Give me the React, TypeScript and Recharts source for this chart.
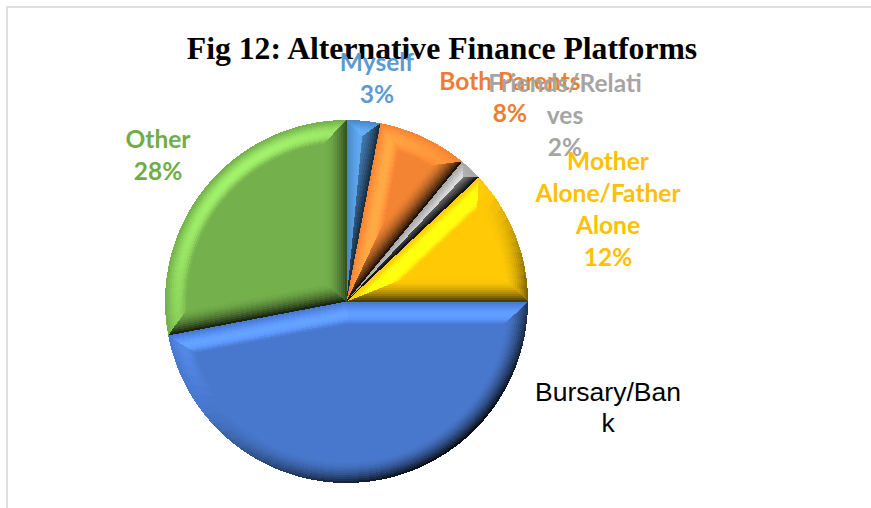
import { PieChart, Pie, Cell } from 'recharts';

const categories = ['Myself', 'Both Parents', 'Friends/Relatives', 'Mother Alone/Father Alone', 'Bursary/Bank', 'Other'];
const shares = [3, 8, 2, 12, 47, 28];
const sliceColors = ['#4a88c4', '#f28433', '#a8a8a8', '#ffc906', '#4878cd', '#74b04b'];
const labelColors = ['#5b9bd5', '#ed7d31', '#a5a5a5', '#ffc000', '#000000', '#70ad47'];
const labelLines = [
  ['Myself', '3%'],
  ['Both Parents', '8%'],
  ['Friends/Relati', 'ves', '2%'],
  ['Mother', 'Alone/Father', 'Alone', '12%'],
  ['Bursary/Ban', 'k'],
  ['Other', '28%'],
];
// label centre x and first baseline
const labelX = [377, 510, 565, 608, 608, 158];
const labelY = [71, 90, 92, 170, 401, 148];

const data = categories.map((name, i) => ({ name, value: shares[i] }));

const BEVEL = 22;
const STRIPS = 11;
const ARC_STEP = 4;
const rad = Math.PI / 180;
const light = { x: -0.6, y: -0.8 };

function shade(hex: string, amount: number) {
  const n = parseInt(hex.slice(1), 16);
  const mix = (c: number) => {
    const v = amount >= 0 ? c * (1 + amount) + 255 * amount * 0.08 : c * (1 + amount);
    return Math.round(Math.max(0, Math.min(255, v)));
  };
  return `rgb(${mix(n >> 16)},${mix((n >> 8) & 255)},${mix(n & 255)})`;
}

// facet whose outward direction is (nx, ny); t runs 0 at the edge to 1 on the flat top
function facetColor(fill: string, nx: number, ny: number, t: number) {
  const lit = nx * light.x + ny * light.y;
  const amount =
    lit >= 0
      ? lit * 0.34 * Math.sin(Math.PI * Math.pow(t, 1.25))
      : lit * 0.95 * Math.pow(1 - t, 1.7);
  return shade(fill, amount);
}

function Bevelled(props: any) {
  const { cx, cy, outerRadius, startAngle, endAngle, fill } = props;
  const a0 = Math.min(startAngle, endAngle) * rad;
  const a1 = Math.max(startAngle, endAngle) * rad;
  const half = (a1 - a0) / 2;
  const mid = (a0 + a1) / 2;
  const maxInset = (outerRadius * Math.sin(half)) / (1 + Math.sin(half));
  const pt = (r: number, a: number) => [cx + r * Math.cos(a), cy - r * Math.sin(a)];

  const inset = (t: number) => {
    const d = Math.min(BEVEL * t, maxInset);
    const shift = d / Math.sin(half);
    const apex = [cx + shift * Math.cos(mid), cy - shift * Math.sin(mid)];
    const r = outerRadius - d;
    const da = Math.asin(Math.min(1, d / r));
    return { apex, r, from: a0 + da, to: a1 - da };
  };

  const segs = Math.max(1, Math.ceil((a1 - a0) / rad / ARC_STEP));
  const faces: any[] = [];
  const poly = (pts: number[][]) => pts.map((p) => `${p[0].toFixed(2)},${p[1].toFixed(2)}`).join(' ');

  for (let s = 0; s < STRIPS; s++) {
    const t0 = s / STRIPS;
    const t1 = (s + 1) / STRIPS;
    const A = inset(t0);
    const B = inset(t1);
    const tm = (t0 + t1) / 2;
    // side facets
    const c0 = facetColor(fill, Math.sin(a0), Math.cos(a0), tm);
    const c1 = facetColor(fill, -Math.sin(a1), -Math.cos(a1), tm);
    const q0 = poly([A.apex, pt(A.r, A.from), pt(B.r, B.from), B.apex]);
    const q1 = poly([A.apex, pt(A.r, A.to), pt(B.r, B.to), B.apex]);
    faces.push(<polygon key={`a${s}`} points={q0} fill={c0} />);
    faces.push(<polygon key={`b${s}`} points={q1} fill={c1} />);
    // rim facets
    for (let k = 0; k < segs; k++) {
      const f0 = k / segs;
      const f1 = (k + 1) / segs;
      const am = A.from + (A.to - A.from) * ((f0 + f1) / 2);
      const col = facetColor(fill, Math.cos(am), -Math.sin(am), tm);
      const pts = poly([
        pt(A.r, A.from + (A.to - A.from) * f0),
        pt(A.r, am),
        pt(A.r, A.from + (A.to - A.from) * f1),
        pt(B.r, B.from + (B.to - B.from) * f1),
        pt(B.r, B.from + (B.to - B.from) * f0),
      ]);
      faces.push(<polygon key={`r${s}-${k}`} points={pts} fill={col} />);
    }
  }

  const top = inset(1);
  const topPts: number[][] = [top.apex];
  for (let k = 0; k <= segs; k++) topPts.push(pt(top.r, top.from + ((top.to - top.from) * k) / segs));

  return (
    <g style={{ filter: 'blur(0.6px)' }} shapeRendering="crispEdges">
      <polygon points={poly([[cx, cy], ...Array.from({ length: segs + 1 }, (_, k) => pt(outerRadius, a0 + ((a1 - a0) * k) / segs))])} fill={shade(fill, -0.3)} />
      {faces}
      <polygon points={poly(topPts)} fill={fill} />
    </g>
  );
}

function SliceLabel(props: any) {
  const { index } = props;
  const isBlack = index === 4;
  return (
    <text
      textAnchor="middle"
      fill={labelColors[index]}
      fontFamily={isBlack ? '"Liberation Sans", Arial, sans-serif' : 'Lato, "Open Sans", sans-serif'}
      fontWeight={isBlack ? 400 : 700}
      fontSize={isBlack ? 26.5 : 24.5}
    >
      {labelLines[index].map((line, i) => (
        <tspan key={i} x={labelX[index]} y={labelY[index] + i * (isBlack ? 31 : 32)}>
          {line}
        </tspan>
      ))}
    </text>
  );
}

export default function App() {
  return (
    <div style={{ position: 'absolute', left: 0, top: 0, width: 871, height: 508, overflow: 'hidden', background: '#fff' }}>
      <div
        style={{
          position: 'absolute',
          left: 6,
          top: 6,
          width: 880,
          height: 520,
          border: '2px solid #dedede',
          boxSizing: 'border-box',
        }}
      />
      <div
        style={{
          position: 'absolute',
          left: 0,
          top: 31,
          width: 884,
          textAlign: 'center',
          fontFamily: '"Liberation Serif", "Times New Roman", serif',
          fontWeight: 700,
          fontSize: 31.7,
          lineHeight: '36px',
          color: '#000',
        }}
      >
        Fig 12: Alternative Finance Platforms
      </div>
      <div style={{ position: 'absolute', left: 0, top: 0 }}>
        <PieChart width={871} height={508} margin={{ top: 0, right: 0, bottom: 0, left: 0 }}>
          <Pie
            data={data}
            dataKey="value"
            nameKey="name"
            cx={346.5}
            cy={301.5}
            outerRadius={181.5}
            startAngle={90}
            endAngle={-270}
            stroke="none"
            isAnimationActive={false}
            shape={Bevelled}
            label={SliceLabel}
            labelLine={false}
            style={{ filter: 'drop-shadow(0 0 3px rgba(0,0,0,0.3))' }}
          >
            {data.map((d, i) => (
              <Cell key={d.name} fill={sliceColors[i]} />
            ))}
          </Pie>
        </PieChart>
      </div>
    </div>
  );
}
